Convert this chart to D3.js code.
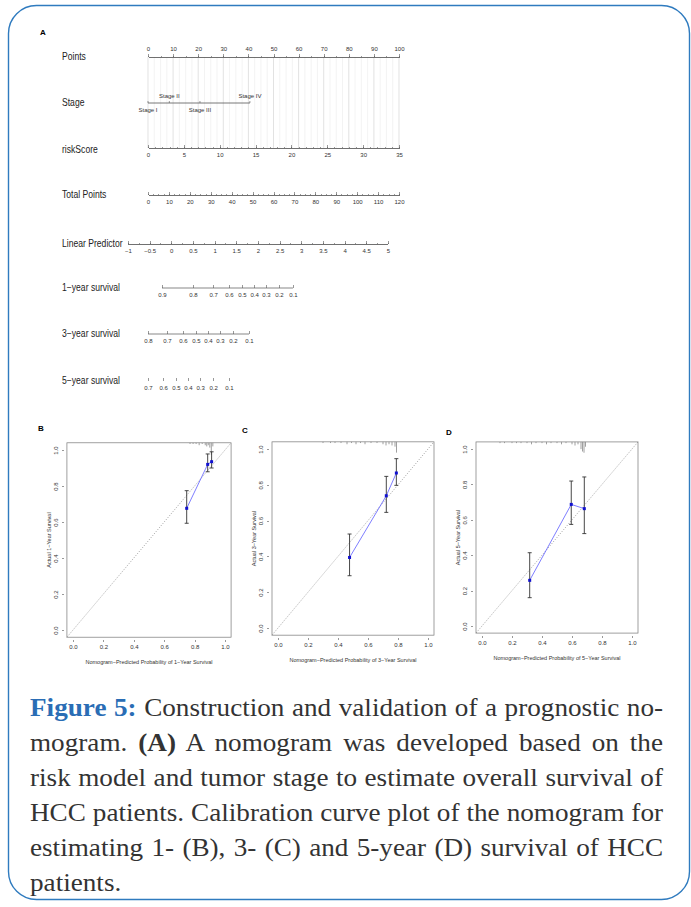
<!DOCTYPE html>
<html>
<head>
<meta charset="utf-8">
<script src="https://cdn.jsdelivr.net/npm/d3@7"></script>
<style>
  body { margin: 0; background: #fff; }
  svg text { font-family: "Liberation Sans", Arial, sans-serif; }
  .axis path, .axis line { stroke: #555; stroke-width: 0.6; shape-rendering: crispEdges; }
  .axis text { font-size: 6px; fill: #333; }
</style>
</head>
<body>
<div id="chart"></div>
<script>
// ---- Nomogram data ----
const pointsTicks = d3.range(0, 101, 10);
const stageNames = ["Stage I", "Stage II", "Stage III", "Stage IV"];
const stagePoints = [0, 8.5, 20.7, 40.6];
const stageSide = ["below", "above", "below", "above"];
const riskScoreTicks = [0, 5, 10, 15, 20, 25, 30, 35];
const riskScoreMaxPoints = 100;
const totalPointsTicks = d3.range(0, 121, 10);
const lpTicks = [-1, -0.5, 0, 0.5, 1, 1.5, 2, 2.5, 3, 3.5, 4, 4.5, 5];
const lpTotalPointsRange = [-9.6, 114.7];
const surv1Probs = [0.9, 0.8, 0.7, 0.6, 0.5, 0.4, 0.3, 0.2, 0.1];
const surv1Points = [6.7, 21.5, 31.1, 38.7, 44.9, 50.7, 56.4, 62.6, 69.3];
const surv3Probs = [0.8, 0.7, 0.6, 0.5, 0.4, 0.3, 0.2, 0.1];
const surv3Points = [0, 9.1, 16.7, 22.9, 28.7, 34.4, 40.6, 48.3];
const surv5Probs = [0.7, 0.6, 0.5, 0.4, 0.3, 0.2, 0.1];
const surv5Points = [0, 7.2, 13.4, 19.1, 24.9, 31.1, 38.7];

// ---- Calibration data (B: 1-year, C: 3-year, D: 5-year) ----
const predB = [0.748, 0.886, 0.912];
const obsB = [0.676, 0.92, 0.935];
const loB = [0.593, 0.879, 0.9];
const hiB = [0.774, 0.978, 0.99];
const rugB = [[0.77, 1], [0.79, 1], [0.81, 1], [0.83, 2], [0.85, 1], [0.87, 2], [0.88, 3], [0.89, 2], [0.90, 4], [0.91, 10], [0.92, 3]];

const predC = [0.477, 0.722, 0.789];
const obsC = [0.394, 0.739, 0.866];
const loC = [0.292, 0.646, 0.797];
const hiC = [0.525, 0.847, 0.946];
const rugC = [[0.30, 1], [0.35, 1], [0.38, 1], [0.42, 1], [0.46, 2], [0.49, 1], [0.52, 2], [0.55, 1], [0.58, 2], [0.62, 1], [0.66, 1], [0.70, 2], [0.72, 3], [0.74, 2], [0.76, 3], [0.78, 4], [0.79, 9]];

const predD = [0.318, 0.595, 0.682];
const obsD = [0.258, 0.687, 0.663];
const loD = [0.16, 0.574, 0.522];
const hiD = [0.414, 0.819, 0.842];
const rugD = [[0.12, 1], [0.15, 1], [0.2, 1], [0.23, 1], [0.26, 1], [0.3, 1], [0.33, 2], [0.36, 1], [0.40, 1], [0.43, 2], [0.46, 1], [0.5, 1], [0.53, 2], [0.56, 1], [0.6, 2], [0.62, 3], [0.64, 2], [0.66, 6], [0.67, 8], [0.68, 9], [0.69, 4]];

const calTicks = [0, 0.2, 0.4, 0.6, 0.8, 1.0];

// ---- Caption ----
const captionLines = [
  [["Figure 5:", "head"], [" Construction and validation of a prognostic no-", ""]],
  [["mogram. ", ""], ["(A)", "bold"], [" A nomogram was developed based on the", ""]],
  [["risk model and tumor stage to estimate overall survival of", ""]],
  [["HCC patients. Calibration curve plot of the nomogram for", ""]],
  [["estimating 1- (B), 3- (C) and 5-year (D) survival of HCC", ""]],
  [["patients.", ""]]
];

const W = 691, H = 907;
const NOMO = { LEFT: 148, RIGHT: 399, LABEL_X: 62 };
const ROWS = { points: 57, stage: 103, risk: 148, total: 195, lp: 244, s1: 288, s3: 334, s5: 381 };

let svg, pointsX, totalX;

function initChart() {
  svg = d3.select("#chart").append("svg")
    .attr("width", W)
    .attr("height", H);

  // rounded blue frame
  svg.append("rect")
    .attr("x", 8.5).attr("y", 5.5)
    .attr("width", 681).attr("height", 894)
    .attr("rx", 28).attr("ry", 28)
    .attr("fill", "none")
    .attr("stroke", "#2f7bbf")
    .attr("stroke-width", 1.4);
}

function rowLabel(text, y) {
  // R output text is a bit condensed
  svg.append("text")
    .attr("transform", "translate(" + NOMO.LABEL_X + "," + (y + 3) + ") scale(0.86,1)")
    .attr("font-size", 10)
    .attr("fill", "#222")
    .text(text);
}

function bottomAxis(scale, y, ticks, fmt, minor) {
  if (minor) {
    svg.append("g").attr("class", "axis")
      .attr("transform", "translate(0," + y + ")")
      .call(d3.axisTop(scale).tickValues(minor).tickSize(1.5).tickFormat("").tickSizeOuter(0));
  }
  const g = svg.append("g").attr("class", "axis")
    .attr("transform", "translate(0," + y + ")")
    .call(d3.axisTop(scale).tickValues(ticks).tickSize(3).tickFormat(fmt).tickSizeOuter(0));
  g.selectAll("text").attr("y", 5).attr("dy", "0.71em");
  return g;
}

function drawNomogram() {
  pointsX = d3.scaleLinear().domain([0, 100]).range([NOMO.LEFT, NOMO.RIGHT]);
  totalX = d3.scaleLinear().domain([0, 120]).range([NOMO.LEFT, NOMO.RIGHT]);
  const riskX = d3.scaleLinear().domain([0, 35]).range([pointsX(0), pointsX(riskScoreMaxPoints)]);
  const lpX = d3.scaleLinear().domain([-1, 5]).range(lpTotalPointsRange.map(totalX));

  svg.append("text")
    .attr("x", 40).attr("y", 35)
    .attr("font-size", 8).attr("font-weight", "bold")
    .text("A");

  // vertical grid
  svg.append("g").selectAll("line")
    .data(d3.range(0, 100.1, 2.5))
    .join("line")
    .attr("x1", d => pointsX(d)).attr("x2", d => pointsX(d))
    .attr("y1", ROWS.points).attr("y2", ROWS.risk)
    .attr("stroke", d => d % 10 === 0 ? "#d6d6d6" : "#eeeeee")
    .attr("stroke-width", 0.7);

  // Points
  rowLabel("Points", ROWS.points);
  svg.append("g").attr("class", "axis")
    .attr("transform", "translate(0," + ROWS.points + ")")
    .call(d3.axisTop(pointsX).tickValues(d3.range(0, 101, 5)).tickSize(1.5).tickFormat("").tickSizeOuter(0));
  svg.append("g").attr("class", "axis")
    .attr("transform", "translate(0," + ROWS.points + ")")
    .call(d3.axisTop(pointsX).tickValues(pointsTicks).tickSize(3).tickSizeOuter(0).tickFormat(d3.format("d")))
    .selectAll("text").attr("y", -6);

  // Stage
  rowLabel("Stage", ROWS.stage);
  svg.append("line")
    .attr("x1", pointsX(d3.min(stagePoints))).attr("x2", pointsX(d3.max(stagePoints)))
    .attr("y1", ROWS.stage).attr("y2", ROWS.stage)
    .attr("stroke", "#555").attr("stroke-width", 0.8);
  svg.append("g").selectAll("line")
    .data(stagePoints)
    .join("line")
    .attr("x1", d => pointsX(d)).attr("x2", d => pointsX(d))
    .attr("y1", ROWS.stage).attr("y2", ROWS.stage - 2)
    .attr("stroke", "#555").attr("stroke-width", 0.6);
  svg.append("g").selectAll("text")
    .data(stageNames)
    .join("text")
    .attr("x", (d, i) => pointsX(stagePoints[i]))
    .attr("y", (d, i) => stageSide[i] === "above" ? ROWS.stage - 5 : ROWS.stage + 9)
    .attr("text-anchor", "middle")
    .attr("font-size", 6)
    .attr("fill", "#333")
    .text(d => d);

  // riskScore
  rowLabel("riskScore", ROWS.risk + 2);
  bottomAxis(riskX, ROWS.risk, riskScoreTicks, d3.format("d"), d3.range(0, 35.1, 1));

  // Total Points
  rowLabel("Total Points", ROWS.total);
  bottomAxis(totalX, ROWS.total, totalPointsTicks, d3.format("d"), d3.range(0, 120.1, 2.5));

  // Linear Predictor
  rowLabel("Linear Predictor", ROWS.lp);
  bottomAxis(lpX, ROWS.lp, lpTicks, d => d3.format("")(d).replace("-", "\u2212"), d3.range(-1, 5.01, 0.25));

  // survival rows
  const survRows = [
    ["1\u2212year survival", ROWS.s1, surv1Probs, surv1Points, true],
    ["3\u2212year survival", ROWS.s3, surv3Probs, surv3Points, true],
    ["5\u2212year survival", ROWS.s5, surv5Probs, surv5Points, false]
  ];
  survRows.forEach(([label, y, probs, pts, withLine]) => {
    rowLabel(label, y);
    const sx = d3.scaleOrdinal().domain(probs).range(pts.map(totalX));
    const ax = d3.axisTop(sx).tickSize(3).tickSizeOuter(0).tickFormat(d3.format(".1f"));
    const g = svg.append("g").attr("class", "axis")
      .attr("transform", "translate(0," + y + ")")
      .call(ax);
    g.select(".domain").remove();
    g.selectAll("text").attr("y", 5).attr("dy", "0.71em");
    if (withLine) {
      svg.append("line")
        .attr("x1", totalX(d3.min(pts))).attr("x2", totalX(d3.max(pts)))
        .attr("y1", y).attr("y2", y)
        .attr("stroke", "#555").attr("stroke-width", 0.7);
    } else {
      g.selectAll(".tick line").attr("stroke", "#999");
    }
  });
}

function drawCalibration(cfg) {
  const x = d3.scaleLinear().domain([0, 1]).range([cfg.left, cfg.left + cfg.w]);
  const y = d3.scaleLinear().domain([0, 1]).range([cfg.top + cfg.h, cfg.top]);
  const x0 = x(-0.04), x1 = x(1.04), y0 = y(-0.04), y1 = y(1.04);
  const g = svg.append("g");

  g.append("text")
    .attr("x", cfg.labelX).attr("y", cfg.labelY)
    .attr("font-size", 8).attr("font-weight", "bold")
    .text(cfg.letter);

  // diagonal
  g.append("line")
    .attr("x1", x0).attr("y1", y0).attr("x2", x1).attr("y2", y1)
    .attr("stroke", "#888").attr("stroke-width", 0.8)
    .attr("stroke-dasharray", "1,1.6");

  // frame
  g.append("rect")
    .attr("x", x0).attr("y", y1)
    .attr("width", x1 - x0).attr("height", y0 - y1)
    .attr("fill", "none").attr("stroke", "#777").attr("stroke-width", 0.7);

  // rug histogram at top
  const h = d3.scaleLinear().domain([0, 10]).range([0, 12]);
  g.append("g").selectAll("line")
    .data(cfg.rug)
    .join("line")
    .attr("x1", d => x(d[0])).attr("x2", d => x(d[0]))
    .attr("y1", y1).attr("y2", d => y1 + h(d[1]))
    .attr("stroke", "#888").attr("stroke-width", 0.8);

  // axes
  const xa = g.append("g").attr("class", "axis")
    .attr("transform", "translate(0," + (y0 + 3) + ")")
    .call(d3.axisBottom(x).tickValues(calTicks).tickSize(2).tickSizeOuter(0).tickFormat(d3.format(".1f")));
  xa.select(".domain").remove();
  xa.selectAll("text").attr("font-size", 5.5).attr("y", 5);

  const ya = g.append("g").attr("class", "axis")
    .attr("transform", "translate(" + (x0 - 3) + ",0)")
    .call(d3.axisLeft(y).tickValues(calTicks).tickSize(2).tickSizeOuter(0).tickFormat(d3.format(".1f")));
  ya.select(".domain").remove();
  ya.selectAll("text")
    .attr("font-size", 5.5)
    .attr("x", 0).attr("dy", 0)
    .attr("text-anchor", "middle")
    .attr("transform", "translate(-6,0) rotate(-90)");

  g.append("text")
    .attr("x", (x0 + x1) / 2).attr("y", y0 + 27)
    .attr("text-anchor", "middle").attr("font-size", 5.5).attr("fill", "#333")
    .text("Nomogram\u2212Predicted Probability of " + cfg.yr + "\u2212Year Survival");
  g.append("text")
    .attr("transform", "translate(" + (x0 - 16) + "," + ((y0 + y1) / 2) + ") rotate(-90)")
    .attr("text-anchor", "middle").attr("font-size", 5.5).attr("fill", "#333")
    .text("Actual " + cfg.yr + "\u2212Year Survival");

  // calibration line and points
  const idx = d3.range(cfg.pred.length);
  const line = d3.line().x(i => x(cfg.pred[i])).y(i => y(cfg.obs[i]));
  g.append("path").datum(idx)
    .attr("d", line)
    .attr("fill", "none").attr("stroke", "#6f6fff").attr("stroke-width", 0.9);

  // error bars
  const eb = g.append("g").selectAll("g").data(idx).join("g");
  eb.append("line")
    .attr("x1", i => x(cfg.pred[i])).attr("x2", i => x(cfg.pred[i]))
    .attr("y1", i => y(cfg.lo[i])).attr("y2", i => y(cfg.hi[i]))
    .attr("stroke", "#333").attr("stroke-width", 0.9);
  [cfg.lo, cfg.hi].forEach(arr => {
    eb.append("line")
      .attr("x1", i => x(cfg.pred[i]) - 2).attr("x2", i => x(cfg.pred[i]) + 2)
      .attr("y1", i => y(arr[i])).attr("y2", i => y(arr[i]))
      .attr("stroke", "#333").attr("stroke-width", 0.9);
  });
  g.append("g").selectAll("rect").data(idx).join("rect")
    .attr("x", i => x(cfg.pred[i]) - 1.5).attr("y", i => y(cfg.obs[i]) - 1.5)
    .attr("width", 3).attr("height", 3)
    .attr("fill", "#1010d0");
}

function drawCaption() {
  const left = 30, right = 663;
  const stretch = 1.045; // widen the serif a little, closer to the journal's face
  const baselines = [716, 751, 786, 821, 856, 891];
  captionLines.forEach((parts, li) => {
    const t = svg.append("text")
      .attr("transform", "translate(" + left + "," + baselines[li] + ") scale(" + stretch + ",1)")
      .attr("font-size", 26)
      .style("font-family", "'Liberation Serif', 'Times New Roman', serif")
      .attr("fill", "#333");
    parts.forEach(([s, kind]) => {
      t.append("tspan")
        .attr("font-weight", kind ? "bold" : "normal")
        .attr("fill", kind === "head" ? "#2a6db5" : "#333")
        .text(s);
    });
    if (li < captionLines.length - 1) {
      const natural = t.node().getComputedTextLength();
      const spaces = parts.map(p => p[0]).join("").split(" ").length - 1;
      const extra = ((right - left) / stretch - natural) / spaces;
      t.style("word-spacing", extra + "px");
    }
  });
}

initChart();
drawNomogram();
drawCalibration({ letter: "B", labelX: 38, labelY: 431, left: 73, top: 450, w: 152, h: 180, yr: "1",
  pred: predB, obs: obsB, lo: loB, hi: hiB, rug: rugB });
drawCalibration({ letter: "C", labelX: 242, labelY: 433, left: 278, top: 449, w: 150, h: 179, yr: "3",
  pred: predC, obs: obsC, lo: loC, hi: hiC, rug: rugC });
drawCalibration({ letter: "D", labelX: 446, labelY: 435, left: 482, top: 449, w: 150, h: 177, yr: "5",
  pred: predD, obs: obsD, lo: loD, hi: hiD, rug: rugD });
drawCaption();
</script>
</body>
</html>
